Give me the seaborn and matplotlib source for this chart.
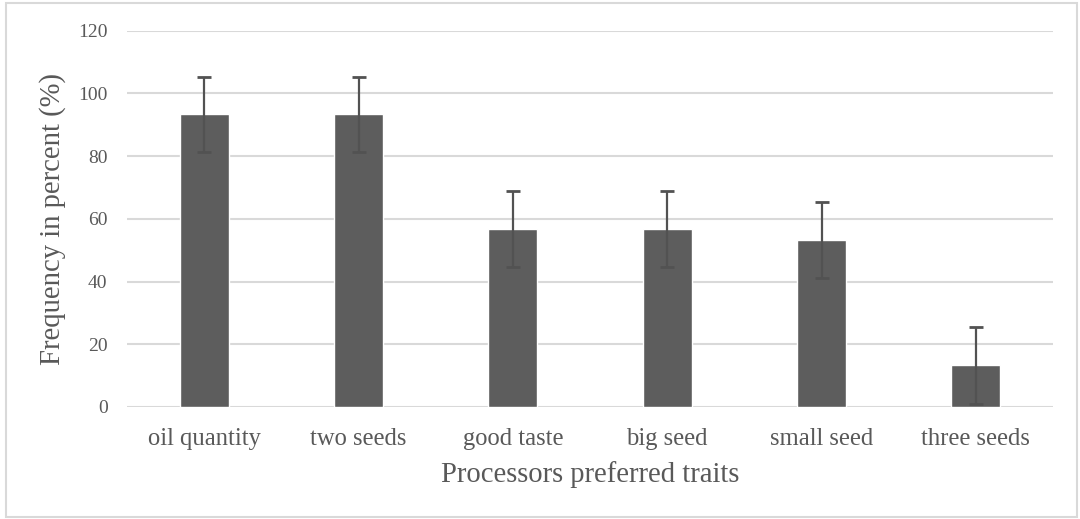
import pandas as pd
import seaborn as sns
import matplotlib.pyplot as plt
from matplotlib.patches import Rectangle

traits = ['oil quantity', 'two seeds', 'good taste', 'big seed', 'small seed', 'three seeds']
freq = [93.3, 93.3, 56.7, 56.7, 53.3, 13.3]
err = [12.1, 12.1, 12.2, 12.2, 12.2, 12.2]

df = pd.DataFrame({'trait': traits, 'freq': freq})

sns.set_style('white')
plt.rcParams['font.family'] = ['Liberation Serif', 'DejaVu Serif']

grey = '#5d5d5d'
fig = plt.figure(figsize=(10.8, 5.19), dpi=100)
ax = fig.add_axes([0.1176, 0.2158, 0.8574, 0.725])

sns.barplot(data=df, x='trait', y='freq', color=grey, saturation=1, width=0.318,
            errorbar=None, ax=ax, zorder=2)
ax.errorbar(range(len(traits)), freq, yerr=err, fmt='none', ecolor='#525252',
            elinewidth=1.6, capsize=5, capthick=2, zorder=3)

ax.set_ylim(0, 120)
ax.set_yticks(range(0, 121, 20))
ax.set_xlim(-0.5, 5.5)
ax.grid(axis='y', color='#d9d9d9', linewidth=1.5, zorder=0)
ax.set_axisbelow(True)
sns.despine(ax=ax, left=True, bottom=True, top=True, right=True)
ax.tick_params(axis='both', length=0, colors='#595959')
ax.tick_params(axis='x', labelsize=17.7, pad=15)
ax.tick_params(axis='y', labelsize=14, pad=14)

ax.set_xlabel('Processors preferred traits', fontsize=20.6, color='#595959', labelpad=8)
ax.set_ylabel('Frequency in percent (%)', fontsize=20.6, color='#595959', labelpad=9)

fig.patches.append(Rectangle((6 / 1080, 2 / 519), 1071 / 1080, 514 / 519,
                             transform=fig.transFigure, fill=False,
                             edgecolor='#d9d9d9', linewidth=1.5))

fig.savefig('out.png', dpi=100)
